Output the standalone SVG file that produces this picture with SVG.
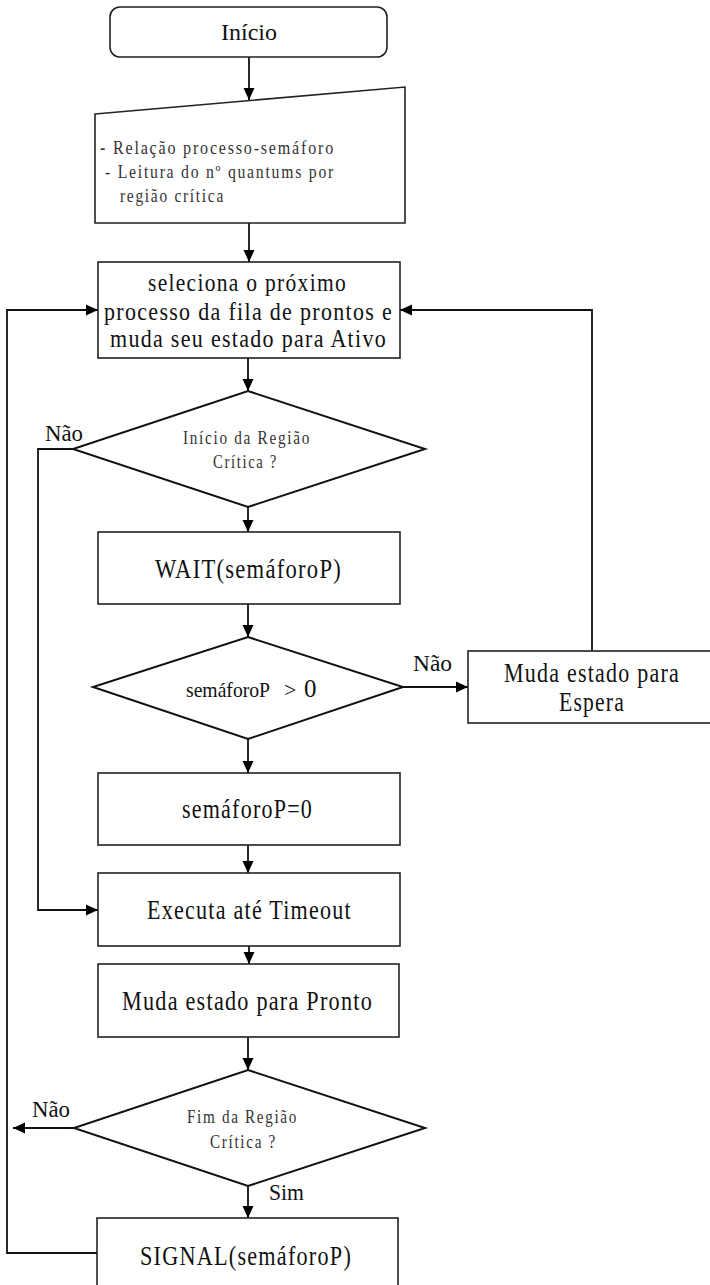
<svg xmlns="http://www.w3.org/2000/svg" width="710" height="1285" viewBox="0 0 710 1285">
<style>
  .box { fill: #fff; stroke: #222; stroke-width: 1.6; }
  .dia { fill: #fff; stroke: #111; stroke-width: 2; }
  .t { font-family: "Liberation Serif", "Times New Roman", serif; fill: #111; }
  .big { font-size: 27px; letter-spacing: 1.5px; }
  .mid { font-size: 25px; letter-spacing: 1.5px; }
  .lbl { font-size: 24px; }
  .sm { font-size: 18px; letter-spacing: 2px; fill: #333; }
  .conn { fill: none; stroke: #111; stroke-width: 1.8; }
</style>
<defs>
  <marker id="ah" markerUnits="userSpaceOnUse" markerWidth="12" markerHeight="12" viewBox="0 0 12 12" refX="12" refY="6" orient="auto">
    <path d="M0,0.5 L12,6 L0,11.5 Z" fill="#000"/>
  </marker>
</defs>
<rect width="710" height="1285" fill="#fff"/>

<g id="connectors">
  <path class="conn" d="M249,57 V100" marker-end="url(#ah)"/>
  <path class="conn" d="M249,223 V262" marker-end="url(#ah)"/>
  <path class="conn" d="M248,358 V391" marker-end="url(#ah)"/>
  <path class="conn" d="M248,507 V532" marker-end="url(#ah)"/>
  <path class="conn" d="M248,604 V637" marker-end="url(#ah)"/>
  <path class="conn" d="M248,739 V773" marker-end="url(#ah)"/>
  <path class="conn" d="M248,845 V873" marker-end="url(#ah)"/>
  <path class="conn" d="M249,946 V964" marker-end="url(#ah)"/>
  <path class="conn" d="M248,1037 V1070" marker-end="url(#ah)"/>
  <path class="conn" d="M248,1186 V1218" marker-end="url(#ah)"/>
  <path class="conn" d="M73,449 H38 V910 H98" marker-end="url(#ah)"/>
  <path class="conn" d="M403,687 H468" marker-end="url(#ah)"/>
  <path class="conn" d="M592,651 V310 H400" marker-end="url(#ah)"/>
  <path class="conn" d="M74,1128 H13" marker-end="url(#ah)"/>
  <path class="conn" d="M97,1253 H7 V310 H98" marker-end="url(#ah)"/>
  <text class="t lbl" x="45" y="441" textLength="38" lengthAdjust="spacingAndGlyphs">Não</text>
  <text class="t lbl" x="413" y="671" textLength="39" lengthAdjust="spacingAndGlyphs">Não</text>
  <text class="t lbl" x="32" y="1117" textLength="38" lengthAdjust="spacingAndGlyphs">Não</text>
  <text class="t lbl" x="269" y="1200" textLength="35" lengthAdjust="spacingAndGlyphs">Sim</text>
</g>

<g id="inicio">
  <rect class="box" x="110" y="7" width="277" height="50" rx="10" ry="10"/>
  <text class="t lbl" x="221" y="40" textLength="56" lengthAdjust="spacingAndGlyphs">Início</text>
</g>

<g id="entrada">
  <path class="box" d="M95,114 L405,87 L405,223 L95,223 Z"/>
  <text class="t sm" x="100" y="154" textLength="235" lengthAdjust="spacingAndGlyphs"><tspan font-weight="bold">-</tspan> Relação processo-semáforo</text>
  <text class="t sm" x="105" y="178" textLength="230" lengthAdjust="spacingAndGlyphs">- Leitura do nº quantums por</text>
  <text class="t sm" x="120" y="202" textLength="105" lengthAdjust="spacingAndGlyphs">região crítica</text>
</g>

<g id="seleciona">
  <rect class="box" x="98" y="262" width="302" height="96"/>
  <text class="t mid" x="148" y="291" textLength="199" lengthAdjust="spacingAndGlyphs">seleciona o próximo</text>
  <text class="t mid" x="104" y="320" textLength="289" lengthAdjust="spacingAndGlyphs">processo da fila de prontos e</text>
  <text class="t mid" x="110" y="347" textLength="277" lengthAdjust="spacingAndGlyphs">muda seu estado para Ativo</text>
</g>

<g id="inicio-regiao">
  <polygon class="dia" points="248,391 425,449 248,507 73,449"/>
  <text class="t sm" x="183" y="444" textLength="128" lengthAdjust="spacingAndGlyphs">Início da Região</text>
  <text class="t sm" x="213" y="468" textLength="65" lengthAdjust="spacingAndGlyphs">Crítica ?</text>
</g>

<g id="wait">
  <rect class="box" x="98" y="532" width="302" height="72"/>
  <text class="t big" x="155" y="578" textLength="187" lengthAdjust="spacingAndGlyphs">WAIT(semáforoP)</text>
</g>

<g id="semaforo-maior">
  <polygon class="dia" points="248,637 403,687 248,739 93,687"/>
  <text class="t" x="186" y="697" font-size="21" textLength="84" lengthAdjust="spacingAndGlyphs">semáforoP</text>
  <text class="t" x="284" y="697" font-size="22">&gt;</text>
  <text class="t" x="304" y="697" font-size="25">0</text>
</g>

<g id="espera">
  <rect class="box" x="468" y="651" width="244" height="72"/>
  <text class="t big" x="504" y="682" textLength="176" lengthAdjust="spacingAndGlyphs">Muda estado para</text>
  <text class="t big" x="559" y="711" textLength="66" lengthAdjust="spacingAndGlyphs">Espera</text>
</g>

<g id="semaforo-zero">
  <rect class="box" x="98" y="773" width="302" height="72"/>
  <text class="t big" x="182" y="818" textLength="131" lengthAdjust="spacingAndGlyphs">semáforoP=0</text>
</g>

<g id="executa">
  <rect class="box" x="98" y="873" width="302" height="73"/>
  <text class="t big" x="147" y="919" textLength="205" lengthAdjust="spacingAndGlyphs">Executa até Timeout</text>
</g>

<g id="pronto">
  <rect class="box" x="98" y="964" width="301" height="73"/>
  <text class="t big" x="122" y="1010" textLength="251" lengthAdjust="spacingAndGlyphs">Muda estado para Pronto</text>
</g>

<g id="fim-regiao">
  <polygon class="dia" points="248,1070 425,1128 248,1186 74,1128"/>
  <text class="t sm" x="187" y="1123" textLength="111" lengthAdjust="spacingAndGlyphs">Fim  da Região</text>
  <text class="t sm" x="210" y="1148" textLength="67" lengthAdjust="spacingAndGlyphs">Crítica ?</text>
</g>

<g id="signal">
  <rect class="box" x="97" y="1218" width="301" height="80"/>
  <text class="t big" x="140" y="1265" textLength="212" lengthAdjust="spacingAndGlyphs">SIGNAL(semáforoP)</text>
</g>
</svg>
